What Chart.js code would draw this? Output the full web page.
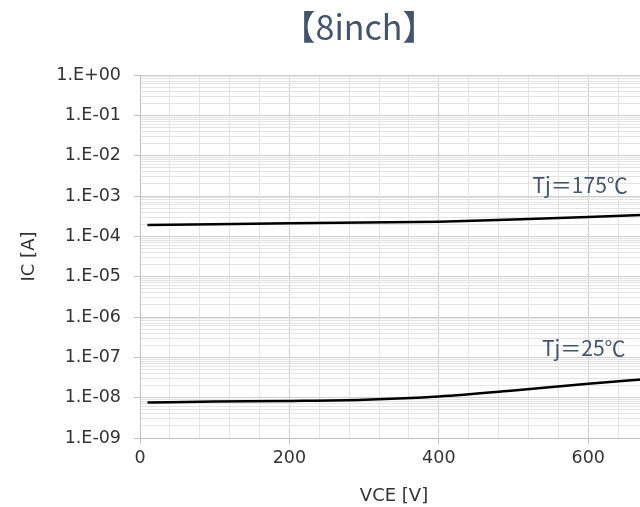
<!DOCTYPE html>
<html>
<head>
<meta charset="utf-8">
<script src="https://cdn.jsdelivr.net/npm/chart.js@4"></script>
<style>
  html, body { margin: 0; padding: 0; background: #fff; overflow: hidden; }
  #wrap { width: 698px; height: 507px; }
</style>
</head>
<body>
<div id="wrap"><canvas id="leakChart" width="698" height="507"></canvas></div>
<script>
// 📊 data
const vce = [10, 100, 200, 300, 400, 500, 600, 680];
const ic175 = [1.9e-4, 2.0e-4, 2.1e-4, 2.2e-4, 2.3e-4, 2.6e-4, 3.0e-4, 3.45e-4];
const ic25 = [7.6e-9, 8.0e-9, 8.3e-9, 8.9e-9, 1.07e-8, 1.5e-8, 2.2e-8, 2.9e-8];
const seriesNames = ["Tj＝175℃", "Tj＝25℃"];
const decades = [-9, -8, -7, -6, -5, -4, -3, -2, -1, 0];
const chartTitle = "【8inch】";

const gridMajor = "#d0d0d0";
const gridMinor = "#e4e4e4";
const textDark = "#44546a";
const cjkFont = "'Noto Sans CJK JP', 'Noto Sans', sans-serif";

function isDecade(v) {
    const l = Math.log10(v);
    return Math.abs(l - Math.round(l)) < 1e-9;
}

function sciLabel(v) {
    const e = Math.round(Math.log10(v));
    const sign = e < 0 ? "-" : "+";
    return "1.E" + sign + String(Math.abs(e)).padStart(2, "0");
}

// title + text tags next to the curves
const tagPlugin = {
    id: "tags",
    afterDatasetsDraw(chart, args, opts) {
        const { ctx, scales } = chart;
        ctx.save();
        ctx.fillStyle = textDark;
        ctx.textBaseline = "middle";

        ctx.font = "34px " + cjkFont;
        ctx.textAlign = "center";
        ctx.fillText(opts.title, opts.titleX, opts.titleY);

        ctx.font = "21px " + cjkFont;
        ctx.textAlign = "right";
        opts.items.forEach(t => {
            ctx.fillText(t.text, scales.x.getPixelForValue(t.x), scales.y.getPixelForValue(t.y));
        });
        ctx.restore();
    }
};

window.onload = function () {
    const ctx = document.getElementById("leakChart").getContext("2d");

    new Chart(ctx, {
        type: "line",
        data: {
            datasets: [
                {
                    label: seriesNames[0],
                    data: vce.map((v, i) => ({ x: v, y: ic175[i] })),
                    borderColor: "#000",
                    borderWidth: 2.5,
                    pointRadius: 0,
                    cubicInterpolationMode: "monotone"
                },
                {
                    label: seriesNames[1],
                    data: vce.map((v, i) => ({ x: v, y: ic25[i] })),
                    borderColor: "#000",
                    borderWidth: 2.5,
                    pointRadius: 0,
                    cubicInterpolationMode: "monotone"
                }
            ]
        },
        options: {
            responsive: false,
            animation: false,
            layout: { padding: { left: 0, right: 50, top: 75, bottom: 0 } },
            plugins: {
                legend: { display: false },
                tooltip: { enabled: false },
                title: { display: false },
                tags: {
                    title: chartTitle,
                    titleX: 359,
                    titleY: 27,
                    items: [
                        { text: seriesNames[0], x: 653, y: 1.85e-3 },
                        { text: seriesNames[1], x: 650, y: 1.7e-7 }
                    ]
                }
            },
            scales: {
                x: {
                    type: "linear",
                    min: 0,
                    max: 680,
                    afterFit: s => { s.height = 69; },
                    border: { color: "#bfbfbf" },
                    grid: {
                        color: c => (c.tick && c.tick.value % 200 === 0) ? gridMajor : gridMinor,
                        tickColor: c => (c.tick && c.tick.value % 200 === 0) ? "#bfbfbf" : "rgba(0,0,0,0)",
                        tickLength: 6
                    },
                    ticks: {
                        stepSize: 40,
                        autoSkip: false,
                        maxRotation: 0,
                        padding: 4,
                        color: "#333",
                        font: { family: "'DejaVu Sans', sans-serif", size: 17.5 },
                        callback: v => (v % 200 === 0 ? String(v) : "")
                    },
                    title: {
                        display: true,
                        text: "VCE [V]",
                        color: "#333",
                        font: { family: "'DejaVu Sans', sans-serif", size: 18 },
                        padding: { top: 3, bottom: 0 }
                    }
                },
                y: {
                    type: "logarithmic",
                    min: 1e-9,
                    max: 1,
                    afterFit: s => { s.width = 140; },
                    afterBuildTicks: s => {
                        const t = [];
                        decades.forEach(e => {
                            if (e === 0) { t.push({ value: 1 }); return; }
                            for (let m = 1; m <= 9; m++) {
                                t.push({ value: m === 1 ? Number("1e" + e) : m * Math.pow(10, e) });
                            }
                        });
                        s.ticks = t;
                    },
                    border: { color: "#bfbfbf" },
                    grid: {
                        color: c => (c.tick && isDecade(c.tick.value)) ? gridMajor : gridMinor,
                        tickColor: c => (c.tick && isDecade(c.tick.value)) ? "#bfbfbf" : "rgba(0,0,0,0)",
                        tickLength: 6
                    },
                    ticks: {
                        autoSkip: false,
                        padding: 13,
                        color: "#333",
                        font: { family: "'DejaVu Sans', sans-serif", size: 17.5 },
                        callback: v => (isDecade(v) ? sciLabel(v) : "")
                    },
                    title: {
                        display: true,
                        text: "IC [A]",
                        color: "#333",
                        font: { family: "'DejaVu Sans', sans-serif", size: 18 },
                        padding: { top: 19, bottom: 0 }
                    }
                }
            }
        },
        plugins: [tagPlugin]
    });
};
</script>
</body>
</html>
